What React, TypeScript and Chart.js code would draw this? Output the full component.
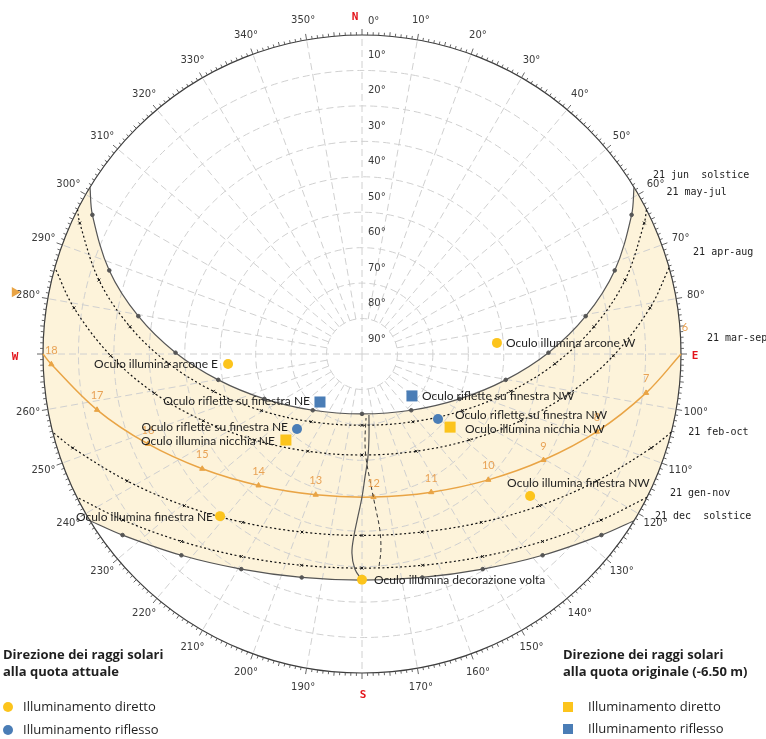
import { useEffect, useRef } from 'react';
import { Chart, registerables } from 'chart.js';

Chart.register(...registerables);

type AzAlt = [number, number];

// Sun paths on the 21st of the month, [azimuth°, altitude°], from sunrise (E) to sunset (W)
const PATH_JUN: AzAlt[] = [
  [58.5, 0], [62.7, 4.4], [71.7, 14.9], [80.4, 26.0], [89.6, 37.4], [100.2, 48.8], [114.7, 59.7],
  [138.8, 68.9], [180, 73.1], [221.2, 68.9], [245.3, 59.7], [259.8, 48.8], [270.4, 37.4],
  [279.6, 26.0], [288.3, 14.9], [297.3, 4.4], [301.5, 0],
];
const PATH_MAY_JUL: AzAlt[] = [
  [63.1, 0], [65.1, 2.2], [74.3, 12.9], [83.3, 24.1], [92.9, 35.5], [104.1, 46.8], [119.3, 57.4],
  [143.1, 66.1], [180, 69.9], [216.9, 66.1], [240.7, 57.4], [255.9, 46.8], [267.1, 35.5],
  [276.7, 24.1], [285.7, 12.9], [294.9, 2.2], [296.9, 0],
];
const PATH_APR_AUG: AzAlt[] = [
  [74.3, 0], [80.9, 7.7], [90.4, 19.1], [100.7, 30.4], [112.8, 41.4], [128.7, 51.2], [150.9, 58.6],
  [180, 61.5], [209.1, 58.6], [231.3, 51.2], [247.2, 41.4], [259.3, 30.4], [269.6, 19.1],
  [279.1, 7.7], [285.7, 0],
];
// equinox: one point per clock hour, 6 … 18, then sunset
const PATH_MAR_SEP: AzAlt[] = [
  [90, 0], [97.8, 9.1], [108.3, 20.2], [120.3, 30.7], [134.9, 39.7], [153.4, 46.4], [175.4, 49.5],
  [198.2, 48.2], [218.2, 42.8], [234.3, 34.5], [247.2, 24.5], [258.1, 13.6], [268.1, 2.3], [270, 0],
];
const EQUINOX_HOURS = ['6', '7', '8', '9', '10', '11', '12', '13', '14', '15', '16', '17', '18', ''];
const PATH_FEB_OCT: AzAlt[] = [
  [104.2, 0], [108.0, 4.2], [118.4, 14.7], [130.5, 24.1], [144.7, 31.8], [161.4, 37.0], [180, 38.8],
  [198.6, 37.0], [215.3, 31.8], [229.5, 24.1], [241.6, 14.7], [252.0, 4.2], [255.8, 0],
];
const PATH_JAN_NOV: AzAlt[] = [
  [116.7, 0], [124.8, 7.9], [136.1, 16.6], [149.2, 23.5], [164.0, 28.0], [180, 29.6],
  [196.0, 28.0], [210.8, 23.5], [223.9, 16.6], [235.2, 7.9], [243.3, 0],
];
const PATH_DEC: AzAlt[] = [
  [121.5, 0], [127.1, 5.3], [138.1, 13.7], [150.7, 20.4], [164.9, 24.7], [180, 26.2],
  [195.1, 24.7], [209.3, 20.4], [221.9, 13.7], [232.9, 5.3], [238.5, 0],
];
const PATH_NAMES = ['21 jun  solstice', '21 may-jul', '21 apr-aug', '21 mar-sep', '21 feb-oct', '21 gen-nov', '21 dec  solstice'];

// sun position at 12:00 through the year (two halves of the analemma)
const NOON_JUN_DEC: AzAlt[] = [
  [173.5, 72.7], [175.2, 66.5], [176.7, 60.9], [178.6, 55.3], [180, 49.65], [181.4, 44.3],
  [182.5, 38.9], [182.9, 33.8], [181.9, 29.3], [180, 26.2],
];
const NOON_JAN_JUN: AzAlt[] = [
  [175.4, 30.0], [174.5, 34.4], [174.2, 40.1], [175.1, 47.2], [176.4, 54.4], [177.8, 60.65],
  [178.0, 65.7], [176.4, 71.9],
];

// sun directions through the oculus
const DIRECT_NOW: AzAlt[] = [[85.3, 51.8], [265.7, 52.1], [130.2, 27.9], [221.2, 29.2], [180, 26.3]];
const DIRECT_NOW_NAMES = [
  'Oculo illumina arcone W', 'Oculo illumina arcone E', 'Oculo illumina finestra NW',
  'Oculo illumina finestra NE', 'Oculo illumina decorazione volta',
];
const REFLECT_NOW: AzAlt[] = [[220.9, 62.0], [130.5, 61.8]];
const REFLECT_NOW_NAMES = ['Oculo riflette su finestra NE', 'Oculo riflette su finestra NW'];
const DIRECT_ORIG: AzAlt[] = [[221.5, 57.6], [129.7, 57.7]];
const DIRECT_ORIG_NAMES = ['Oculo illumina nicchia NE', 'Oculo illumina nicchia NW'];
const REFLECT_ORIG: AzAlt[] = [[221.2, 72.0], [130.0, 71.6]];
const REFLECT_ORIG_NAMES = ['Oculo riflette su finestra NE', 'Oculo riflette su finestra NW'];
const AXIS_MARK: AzAlt[] = [[280.1, -9.5]];

const ALT_RINGS = [10, 20, 30, 40, 50, 60, 70, 80];
const ALT_TICKS = [10, 20, 30, 40, 50, 60, 70, 80, 90];
const AZ_STEP = 10;
const CARDINALS = ['N', 'E', 'S', 'W'];

const LEGEND_TITLE = 'Direzione dei raggi solari';
const LEGEND_NOW = 'alla quota attuale';
const LEGEND_ORIG = 'alla quota originale (-6.50 m)';
const LEGEND_DIRECT = 'Illuminamento diretto';
const LEGEND_REFLECT = 'Illuminamento riflesso';

// ---- styling ----
const YELLOW = '#fcc41c';
const BLUE = '#4a7db6';
const BAND = '#fdf3da';
const ORANGE = '#e9a445';
const HOUR_INK = '#e8a255';
const INK = '#1f1f1f';
const GRID = '#d0d0d0';
const RED = '#e3141b';
const LABEL_FONT = '12px Lato';
const AXIS_FONT = '10px "DejaVu Sans"';
const MONO_FONT = '10px "DejaVu Sans Mono"';
const EXTENT = 1.1; // scale reaches a little past the horizon so outer marks stay drawable

// label offsets (px) for the marker names
const DIRECT_NOW_TAGS: [number, number, CanvasTextAlign][] = [
  [9, 0, 'left'], [-10, 0, 'right'], [-23, -13, 'left'], [-7, 1, 'right'], [12, 0, 'left'],
];
const REFLECT_NOW_TAGS: [number, number, CanvasTextAlign][] = [[-9, -2, 'right'], [17, -4, 'left']];
const DIRECT_ORIG_TAGS: [number, number, CanvasTextAlign][] = [[-11, 1, 'right'], [15, 2, 'left']];
const REFLECT_ORIG_TAGS: [number, number, CanvasTextAlign][] = [[-10, -1, 'right'], [10, 0, 'left']];
const PATH_NAME_OFFSETS = [[19, -12], [20, -17], [24, -15], [26, -16], [17, 0], [23, -4], [21, -4]];

const DEG = Math.PI / 180;
const toXY = ([az, alt]: AzAlt) => {
  const r = (90 - alt) / 90;
  return { x: r * Math.sin(az * DEG), y: r * Math.cos(az * DEG) };
};

const endsHidden = (size: number) => (c: any) => {
  const n = c.dataset.data.length;
  return c.dataIndex === 0 || c.dataIndex === n - 1 ? 0 : size;
};

const pathSet = (label: string, pts: AzAlt[], o: any) => ({
  label,
  data: pts.map(toXY),
  showLine: true,
  tension: 0.35,
  fill: false,
  clip: false,
  order: 5,
  borderColor: o.color,
  borderWidth: o.width ?? 1.2,
  borderDash: o.dash ?? [],
  pointStyle: o.pointStyle ?? 'circle',
  pointRadius: endsHidden(o.pointRadius ?? 2),
  pointBackgroundColor: o.pointColor ?? o.color,
  pointBorderColor: o.pointColor ?? o.color,
  pointBorderWidth: 1,
});

const markSet = (label: string, pts: AzAlt[], color: string, style: string, radius: number) => ({
  label,
  data: pts.map(toXY),
  showLine: false,
  clip: false,
  order: 1,
  pointStyle: style,
  pointRadius: radius,
  pointBackgroundColor: color,
  pointBorderColor: color,
  pointBorderWidth: 0,
});

function frame(chart: any) {
  const xs = chart.scales.x;
  const ys = chart.scales.y;
  const cx = xs.getPixelForValue(0);
  const cy = ys.getPixelForValue(0);
  const R = xs.getPixelForValue(1) - cx;
  const at = (az: number, rr: number) => ({ x: cx + rr * Math.sin(az * DEG), y: cy - rr * Math.cos(az * DEG) });
  return { cx, cy, R, at };
}

function trace(ctx: CanvasRenderingContext2D, pts: any[], reverse: boolean, first: boolean) {
  const list = reverse ? [...pts].reverse() : pts;
  list.forEach((p, i) => {
    if (i === 0) {
      if (first) ctx.moveTo(p.x, p.y);
      else ctx.lineTo(p.x, p.y);
      return;
    }
    const q = list[i - 1];
    if (reverse) ctx.bezierCurveTo(q.cp1x, q.cp1y, p.cp2x, p.cp2y, p.x, p.y);
    else ctx.bezierCurveTo(q.cp2x, q.cp2y, p.cp1x, p.cp1y, p.x, p.y);
  });
}

const metaOf = (chart: any, label: string) =>
  chart.getDatasetMeta(chart.data.datasets.findIndex((d: any) => d.label === label));

const skyPlugin = {
  id: 'sky',
  beforeDatasetsDraw(chart: any) {
    const ctx: CanvasRenderingContext2D = chart.ctx;
    const { cx, cy, R, at } = frame(chart);
    const jun = metaOf(chart, PATH_NAMES[0]);
    const dec = metaOf(chart, PATH_NAMES[6]);
    jun.dataset.updateControlPoints(chart.chartArea, 'x');
    dec.dataset.updateControlPoints(chart.chartArea, 'x');
    const jp = jun.data;
    const dp = dec.data;
    const ang = (p: any) => Math.atan2(p.y - cy, p.x - cx);

    ctx.save();
    // band of the year between the two solstices
    ctx.beginPath();
    trace(ctx, jp, false, true);
    ctx.arc(cx, cy, R, ang(jp[jp.length - 1]), ang(dp[dp.length - 1]), true);
    trace(ctx, dp, true, false);
    ctx.arc(cx, cy, R, ang(dp[0]), ang(jp[0]), true);
    ctx.closePath();
    ctx.fillStyle = BAND;
    ctx.fill();

    // altitude rings and azimuth spokes
    ctx.strokeStyle = GRID;
    ctx.lineWidth = 1;
    ctx.setLineDash([7, 4]);
    ALT_RINGS.forEach((alt) => {
      ctx.beginPath();
      ctx.arc(cx, cy, (R * (90 - alt)) / 90, 0, Math.PI * 2);
      ctx.stroke();
    });
    for (let az = 0; az < 360; az += AZ_STEP) {
      const inner = az % 90 === 0 ? 0 : R / 9;
      const a = at(az, inner);
      const b = at(az, R);
      ctx.beginPath();
      ctx.moveTo(a.x, a.y);
      ctx.lineTo(b.x, b.y);
      ctx.stroke();
    }
    ctx.setLineDash([]);

    // horizon with degree ticks
    ctx.strokeStyle = '#3c3c3c';
    ctx.lineWidth = 1.2;
    ctx.beginPath();
    ctx.arc(cx, cy, R, 0, Math.PI * 2);
    ctx.stroke();
    ctx.lineWidth = 0.9;
    ctx.strokeStyle = '#555';
    for (let d = 0; d < 360; d++) {
      const len = d % 10 === 0 ? 6 : d % 5 === 0 ? 4 : 3;
      const a = at(d, R);
      const b = at(d, R + len);
      ctx.beginPath();
      ctx.moveTo(a.x, a.y);
      ctx.lineTo(b.x, b.y);
      ctx.stroke();
    }

    // altitude labels along the north spoke
    ctx.font = AXIS_FONT;
    ctx.fillStyle = '#3a3a3a';
    ctx.textBaseline = 'middle';
    ctx.textAlign = 'left';
    ALT_TICKS.forEach((alt) => {
      const r = (R * (90 - alt)) / 90;
      ctx.fillText(`${alt}°`, cx + 6, cy - r - 15);
    });

    // azimuth labels
    for (let az = 0; az < 360; az += AZ_STEP) {
      if (az % 90 === 0 && az !== 0) continue;
      if (az === 0) {
        ctx.textAlign = 'left';
        ctx.fillText('0°', cx + 6, cy - R - 14);
        continue;
      }
      const p = at(az, R + 20);
      ctx.textAlign = 'center';
      ctx.fillText(`${az}°`, p.x, p.y);
    }

    // cardinal points
    ctx.font = 'bold 11px "DejaVu Sans Mono"';
    ctx.fillStyle = RED;
    ctx.textAlign = 'center';
    const spots = [
      [cx - 7, cy - R - 18],
      [cx + R + 14, cy + 2],
      [cx + 1, cy + R + 22],
      [cx - R - 28, cy + 3],
    ];
    CARDINALS.forEach((c, i) => ctx.fillText(c, spots[i][0], spots[i][1]));
    ctx.restore();
  },

  afterDatasetsDraw(chart: any) {
    const ctx: CanvasRenderingContext2D = chart.ctx;
    ctx.save();
    ctx.textBaseline = 'middle';

    // clock hours on the equinox path
    const eq = metaOf(chart, PATH_NAMES[3]);
    ctx.font = '11px Lato';
    ctx.fillStyle = HOUR_INK;
    ctx.textAlign = 'center';
    EQUINOX_HOURS.forEach((h, i) => {
      if (!h) return;
      const p = eq.data[i];
      if (i === 0) ctx.fillText(h, p.x + 4, p.y - 27);
      else ctx.fillText(h, p.x, p.y - 14);
    });

    // names of the daily paths at their sunrise end
    ctx.font = MONO_FONT;
    ctx.fillStyle = '#222';
    ctx.textAlign = 'left';
    PATH_NAMES.forEach((name, i) => {
      const p = metaOf(chart, name).data[0];
      ctx.fillText(name, p.x + PATH_NAME_OFFSETS[i][0], p.y + PATH_NAME_OFFSETS[i][1]);
    });

    // names of the oculus directions
    ctx.font = LABEL_FONT;
    ctx.fillStyle = INK;
    const groups: [string, string[], [number, number, CanvasTextAlign][]][] = [
      ['Illuminamento diretto (attuale)', DIRECT_NOW_NAMES, DIRECT_NOW_TAGS],
      ['Illuminamento riflesso (attuale)', REFLECT_NOW_NAMES, REFLECT_NOW_TAGS],
      ['Illuminamento diretto (originale)', DIRECT_ORIG_NAMES, DIRECT_ORIG_TAGS],
      ['Illuminamento riflesso (originale)', REFLECT_ORIG_NAMES, REFLECT_ORIG_TAGS],
    ];
    groups.forEach(([label, names, tags]) => {
      const meta = metaOf(chart, label);
      names.forEach((n, i) => {
        const p = meta.data[i];
        ctx.textAlign = tags[i][2];
        ctx.fillText(n, p.x + tags[i][0], p.y + tags[i][1]);
      });
    });
    ctx.restore();
  },

  afterDraw(chart: any) {
    const ctx: CanvasRenderingContext2D = chart.ctx;
    ctx.save();
    ctx.textBaseline = 'middle';
    ctx.textAlign = 'left';
    ctx.fillStyle = INK;
    ctx.font = 'bold 13px "Open Sans"';
    ctx.fillText(LEGEND_TITLE, 3, 655);
    ctx.fillText(LEGEND_NOW, 3, 672);
    ctx.fillText(LEGEND_TITLE, 563, 655);
    ctx.fillText(LEGEND_ORIG, 563, 672);

    ctx.font = '13px "Open Sans"';
    ctx.fillText(LEGEND_DIRECT, 23, 707);
    ctx.fillText(LEGEND_REFLECT, 23, 730);
    ctx.fillText(LEGEND_DIRECT, 588, 707);
    ctx.fillText(LEGEND_REFLECT, 588, 729);

    ctx.fillStyle = YELLOW;
    ctx.beginPath();
    ctx.arc(8, 707, 5, 0, Math.PI * 2);
    ctx.fill();
    ctx.fillRect(563, 702, 10, 10);
    ctx.fillStyle = BLUE;
    ctx.beginPath();
    ctx.arc(8, 730, 5, 0, Math.PI * 2);
    ctx.fill();
    ctx.fillRect(563, 724, 10, 10);
    ctx.restore();
  },
};

function buildConfig(): any {
  // horizon radius 319 px around (362, 354)
  const half = 319 * EXTENT;
  return {
    type: 'scatter',
    data: {
      datasets: [
        markSet('Illuminamento diretto (attuale)', DIRECT_NOW, YELLOW, 'circle', 5),
        markSet('Illuminamento riflesso (attuale)', REFLECT_NOW, BLUE, 'circle', 5),
        markSet('Illuminamento diretto (originale)', DIRECT_ORIG, YELLOW, 'rect', 7.8),
        markSet('Illuminamento riflesso (originale)', REFLECT_ORIG, BLUE, 'rect', 7.8),
        { ...markSet('axis', AXIS_MARK, ORANGE, 'triangle', 6), pointRotation: 90 },
        pathSet(PATH_NAMES[0], PATH_JUN, { color: '#555', pointRadius: 1.8 }),
        pathSet(PATH_NAMES[1], PATH_MAY_JUL, { color: '#111', dash: [2, 2.5], pointStyle: 'crossRot', pointRadius: 2 }),
        pathSet(PATH_NAMES[2], PATH_APR_AUG, { color: '#111', dash: [2, 2.5], pointStyle: 'crossRot', pointRadius: 2 }),
        pathSet(PATH_NAMES[3], PATH_MAR_SEP, { color: ORANGE, width: 1.5, pointStyle: 'triangle', pointRadius: 3 }),
        pathSet(PATH_NAMES[4], PATH_FEB_OCT, { color: '#111', dash: [2, 2.5], pointStyle: 'crossRot', pointRadius: 2 }),
        pathSet(PATH_NAMES[5], PATH_JAN_NOV, { color: '#111', dash: [2, 2.5], pointStyle: 'crossRot', pointRadius: 2 }),
        pathSet(PATH_NAMES[6], PATH_DEC, { color: '#555', pointRadius: 1.8 }),
        { ...pathSet('12:00 giu-dic', NOON_JUN_DEC, { color: '#555', pointRadius: 0 }), order: 4 },
        { ...pathSet('12:00 gen-giu', NOON_JAN_JUN, { color: '#333', width: 1, dash: [4, 3], pointRadius: 0 }), order: 4 },
      ],
    },
    options: {
      responsive: false,
      animation: false,
      events: [],
      layout: {
        autoPadding: false,
        padding: { left: 362 - half, right: 766 - 362 - half, top: 354 - half, bottom: 739 - 354 - half },
      },
      scales: {
        x: { type: 'linear', min: -EXTENT, max: EXTENT, display: false },
        y: { type: 'linear', min: -EXTENT, max: EXTENT, display: false },
      },
      plugins: { legend: { display: false }, tooltip: { enabled: false } },
    },
    plugins: [skyPlugin],
  };
}

export default function App() {
  const ref = useRef<HTMLCanvasElement>(null);
  useEffect(() => {
    if (!ref.current) return;
    const chart = new Chart(ref.current, buildConfig());
    return () => chart.destroy();
  }, []);
  return (
    <div style={{ position: 'fixed', left: 0, top: 0, width: 766, height: 739, background: '#fff' }}>
      <canvas ref={ref} width={766} height={739} style={{ display: 'block' }} />
    </div>
  );
}
